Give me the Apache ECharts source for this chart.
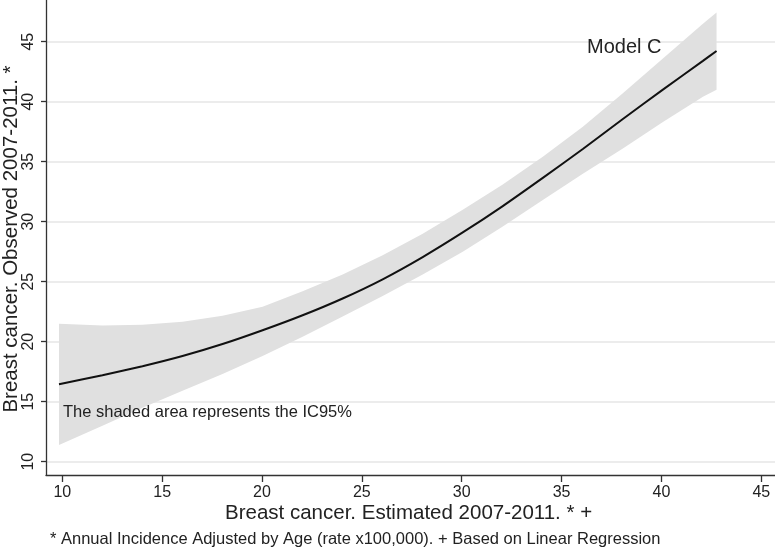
<!DOCTYPE html>
<html><head><meta charset="utf-8">
<script src="https://cdn.jsdelivr.net/npm/echarts@6/dist/echarts.min.js"></script>
<style>html,body{margin:0;padding:0;background:#fff}#c{width:775px;height:551px}</style>
</head><body><div id="c"></div>
<script>
// Estimated 2007-2011 (x) values along the fitted curve
const xVals     = [9.83, 12, 14, 16, 18, 20, 22, 24, 26, 28, 30, 32, 34, 36, 38, 40, 42, 42.68];
// fitted Observed 2007-2011
const fitVals   = [16.45, 17.2, 17.95, 18.8, 19.8, 20.95, 22.2, 23.6, 25.2, 27.05, 29.1, 31.3, 33.65, 36.05, 38.55, 41.0, 43.4, 44.22];
// IC95% lower / upper bounds
const lowerVals = [11.4, 13.0, 14.5, 15.9, 17.3, 18.8, 20.4, 22.1, 23.8, 25.6, 27.5, 29.6, 31.8, 34.0, 36.1, 38.3, 40.4, 41.0];
const upperVals = [21.5, 21.35, 21.4, 21.65, 22.15, 22.9, 24.2, 25.6, 27.2, 29.0, 31.0, 33.1, 35.4, 37.9, 40.7, 43.6, 46.5, 47.42];
const xTicks = [10, 15, 20, 25, 30, 35, 40, 45];
const yTicks = [10, 15, 20, 25, 30, 35, 40, 45];

const chart = echarts.init(document.getElementById('c'), null, {renderer: 'canvas'});
const FONT = '"Liberation Sans", Arial, sans-serif';
const axisCol = '#333';

const bandData = xVals.map((x, i) => [x, lowerVals[i], upperVals[i]]);
const fitData = xVals.map((x, i) => [x, fitVals[i]]);

chart.setOption({
  animation: false,
  backgroundColor: '#fff',
  grid: [
    {left: 46, right: 0, top: 0, bottom: 76},        // data area
    {left: 46, right: 0, top: 41.7, bottom: 89.3},   // y ticks / gridlines
    {left: 62.3, right: 13.7, top: 0, bottom: 76}    // x ticks
  ],
  xAxis: [
    {gridIndex: 0, type: 'value', min: 9.18, max: 45.6,
     axisLine: {show: true, lineStyle: {color: axisCol, width: 1.3}},
     axisTick: {show: false}, axisLabel: {show: false}, splitLine: {show: false}},
    {gridIndex: 1, type: 'value', min: 0, max: 1, show: false},
    {gridIndex: 2, type: 'value', min: xTicks[0], max: xTicks[xTicks.length - 1], interval: 5,
     axisLine: {show: false},
     axisTick: {show: true, length: 7, lineStyle: {color: axisCol, width: 1.3}},
     axisLabel: {show: true, margin: 10, fontSize: 16, color: '#222', fontFamily: FONT},
     splitLine: {show: false}}
  ],
  yAxis: [
    {gridIndex: 0, type: 'value', min: 8.89, max: 48.47,
     axisLine: {show: true, lineStyle: {color: axisCol, width: 1.3}},
     axisTick: {show: false}, axisLabel: {show: false}, splitLine: {show: false}},
    {gridIndex: 1, type: 'value', min: yTicks[0], max: yTicks[yTicks.length - 1], interval: 5,
     axisLine: {show: false},
     axisTick: {show: true, length: 5, lineStyle: {color: axisCol, width: 1.3}},
     axisLabel: {show: true, rotate: 90, margin: 9, fontSize: 16, color: '#222', fontFamily: FONT},
     splitLine: {show: true, lineStyle: {color: '#e6e6e6', width: 1.5}}},
    {gridIndex: 2, type: 'value', min: 0, max: 1, show: false}
  ],
  series: [
    {type: 'custom', xAxisIndex: 0, yAxisIndex: 0, data: [0], silent: true, z: 3,
     renderItem: function (params, api) {
       const up = bandData.map(d => api.coord([d[0], d[2]]));
       const lo = bandData.slice().reverse().map(d => api.coord([d[0], d[1]]));
       return {type: 'polygon', shape: {points: up.concat(lo)},
               style: {fill: '#e0e0e0', stroke: null}};
     }},
    {type: 'line', xAxisIndex: 0, yAxisIndex: 0, data: fitData, smooth: 0.2,
     symbol: 'none', lineStyle: {color: '#111', width: 2}, z: 5}
  ],
  graphic: [
    {type: 'text', z: 100, left: 587, top: 37.5, style: {text: 'Model C', font: '20px ' + FONT, fill: '#222'}},
    {type: 'text', z: 100, left: 63, top: 404, style: {text: 'The shaded area represents the IC95%', font: '16.5px ' + FONT, fill: '#222'}},
    {type: 'text', z: 100, left: 225, top: 503, style: {text: 'Breast cancer. Estimated 2007-2011. * +', font: '20.5px ' + FONT, fill: '#222'}},
    {type: 'text', z: 100, left: 50, top: 531, style: {text: '* Annual Incidence Adjusted by Age (rate x100,000). + Based on Linear Regression', font: '16.5px ' + FONT, fill: '#222'}},
    {type: 'text', z: 100, x: 11, y: 239, rotation: Math.PI / 2,
     style: {text: 'Breast cancer. Observed 2007-2011. *', font: '20.5px ' + FONT, fill: '#222', align: 'center', verticalAlign: 'middle'}}
  ]
});
</script>
</body></html>
